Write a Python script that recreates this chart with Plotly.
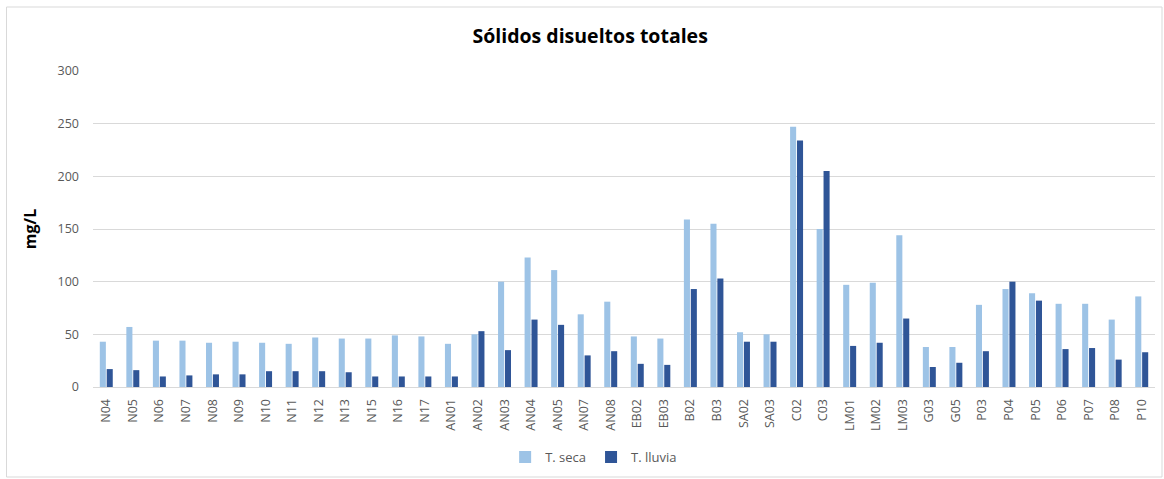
import plotly.graph_objects as go

# Sampling stations
estaciones = ["N04", "N05", "N06", "N07", "N08", "N09", "N10", "N11", "N12", "N13",
              "N15", "N16", "N17", "AN01", "AN02", "AN03", "AN04", "AN05", "AN07", "AN08",
              "EB02", "EB03", "B02", "B03", "SA02", "SA03", "C02", "C03", "LM01", "LM02",
              "LM03", "G03", "G05", "P03", "P04", "P05", "P06", "P07", "P08", "P10"]

# Total dissolved solids (mg/L), dry season
t_seca = [43, 57, 44, 44, 42, 43, 42, 41, 47, 46,
          46, 49, 48, 41, 50, 100, 123, 111, 69, 81,
          48, 46, 159, 155, 52, 50, 247, 150, 97, 99,
          144, 38, 38, 78, 93, 89, 79, 79, 64, 86]

# Total dissolved solids (mg/L), rainy season
t_lluvia = [17, 16, 10, 11, 12, 12, 15, 15, 15, 14,
            10, 10, 10, 10, 53, 35, 64, 59, 30, 34,
            22, 21, 93, 103, 43, 43, 234, 205, 39, 42,
            65, 19, 23, 34, 100, 82, 36, 37, 26, 33]

y_ticks = [0, 50, 100, 150, 200, 250, 300]

gris = "#595959"
fuente = "Open Sans"

L, R, T, B = 93, 9, 71, 92
W, H = 1164, 479
pw, ph = W - L - R, H - T - B

fig = go.Figure()
fig.add_trace(go.Bar(x=estaciones, y=t_seca, name="T. seca",
                     marker=dict(color="#9DC3E6", line=dict(width=0))))
fig.add_trace(go.Bar(x=estaciones, y=t_lluvia, name="T. lluvia",
                     marker=dict(color="#2F5597", line=dict(width=0))))

fig.update_layout(
    width=W, height=H,
    margin=dict(l=L, r=R, t=T, b=B),
    paper_bgcolor="white", plot_bgcolor="white",
    barmode="group", bargap=0.48, bargroupgap=0.12,
    font=dict(family=fuente, color=gris, size=12),
    title=dict(text="<b>Sólidos disueltos totales</b>",
               font=dict(family=fuente, size=19.5, color="#000000"),
               x=0.507, xanchor="center", xref="container",
               y=1 - 36 / H, yanchor="middle", yref="container"),
    legend=dict(orientation="h", xref="container", x=0.51, xanchor="center",
                yref="container", y=1 - 457 / H, yanchor="middle",
                font=dict(family=fuente, size=13, color=gris),
                itemwidth=30, traceorder="normal"),
    xaxis=dict(type="category", tickangle=-90, showgrid=False,
               showline=True, linecolor="#D9D9D9", linewidth=1,
               ticks="", tickfont=dict(size=12.5, color=gris),
               ticklabelstandoff=6),
    yaxis=dict(range=[0, 300], tickvals=y_ticks, showgrid=True,
               gridcolor="#D9D9D9", gridwidth=1, zeroline=False,
               showline=False, ticks="", tickfont=dict(size=12.5, color=gris),
               ticklabelstandoff=13,
               title=dict(text="<b>mg/L</b>", font=dict(size=16, color="#000000"),
                          standoff=16)),
    shapes=[dict(type="rect", xref="paper", yref="paper",
                 x0=(6.5 - L) / pw, x1=(1162 - L) / pw,
                 y0=-(477 - (H - B)) / ph, y1=(ph + T - 7) / ph,
                 line=dict(color="#D9D9D9", width=1), layer="below")],
)

fig.write_html("out.html")
